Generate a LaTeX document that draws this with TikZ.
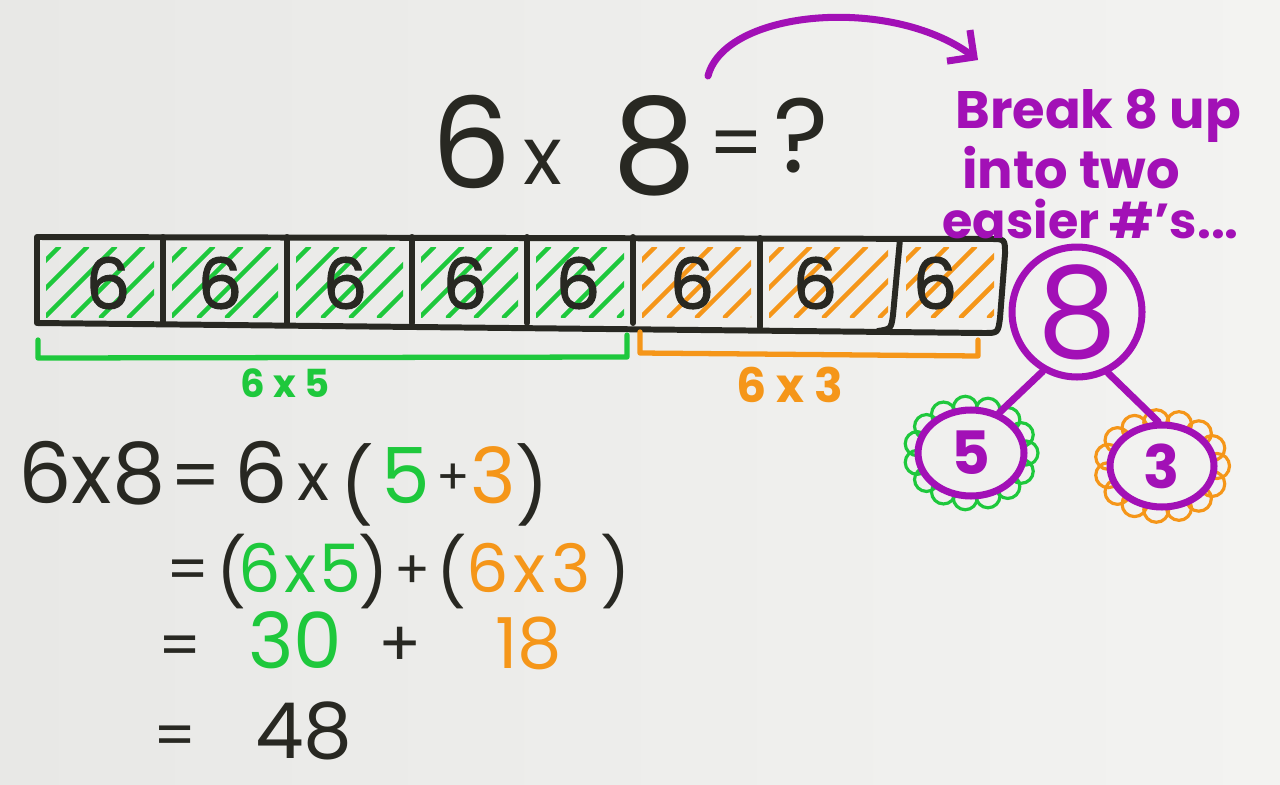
\documentclass[tikz,border=0pt]{standalone}
\usepackage{fontspec}
\setmainfont{Poppins}
\newfontfamily\thickfont[FakeBold=1.6]{Poppins}
\usetikzlibrary{arrows.meta,shapes.geometric}
\definecolor{bgl}{RGB}{232,232,230}
\definecolor{bgr}{RGB}{243,243,241}
\definecolor{maskg}{RGB}{240,240,238}
\definecolor{masko}{RGB}{242,242,240}
\definecolor{ink}{RGB}{40,40,34}
\definecolor{mgreen}{RGB}{30,200,60}
\definecolor{morange}{RGB}{245,150,25}
\definecolor{mpurple}{RGB}{162,16,182}
\newcommand{\myfs}[1]{\fontsize{#1}{#1}\selectfont}
\begin{document}
\begin{tikzpicture}[x=0.02cm,y=-0.02cm,
  outline/.style={draw=ink,line width=3.4pt,line join=round,line cap=round},
  hatch/.style={line width=2.6pt,line cap=round},
  celltxt/.style={text=ink,font=\myfs{40}\thickfont,inner sep=0pt},
  ptxt/.style={text=mpurple,font=\myfs{30}\bfseries,inner sep=0pt,anchor=base west},
  pline/.style={draw=mpurple,line width=4pt,line cap=round},
  eqtxt/.style={text=ink,inner sep=0pt,anchor=base west},
  ttl/.style={text=ink,inner sep=0pt},
  scallop/.style={line width=1.8pt},
]
\shade[left color=bgl,right color=bgr] (0,0) rectangle (1280,784);
\useasboundingbox (0,0) rectangle (1280,784);

% hatching
\foreach \xl/\xr/\c in {37/163/mgreen,163/287/mgreen,287/412/mgreen,412/527/mgreen,527/633/mgreen,633/760/morange,760/897/morange,897/1003/morange}{
  \begin{scope}
    \clip (\xl+9,247) rectangle (\xr-9,317);
    \foreach \a in {-76,-48,...,140}
      \draw[hatch,\c] (\xl+\a,317) -- (\xl+\a+70,247);
  \end{scope}
}

% bar outline
\draw[outline] (37,323) -- (37,237) -- (990,239) .. controls (1005,239) .. (1005,254)
  -- (1000,318) .. controls (998,333) .. (984,333) -- (37,323) -- cycle;
\foreach \xd in {163,287,412,527,633}
  \draw[outline] (\xd,237) -- (\xd,323);
\draw[outline] (760,238) -- (760,327);
\draw[outline] (900,239) -- (893,315) .. controls (891,329) .. (878,331);

% cell digits
\foreach \i/\xc in {1/108,2/220,3/345,4/465,5/578,6/692,7/815,8/935}
  \node[celltxt] (c\i) at (\xc,283) {6};

% brackets
\coordinate (gA) at (38,340); \coordinate (gB) at (38,358);
\coordinate (gC) at (627,357); \coordinate (gD) at (627,335);
\draw[mgreen,line width=3pt,line join=round,line cap=round] (gA) -- (gB) -- (gC) -- (gD);
\coordinate (oA) at (640,332); \coordinate (oB) at (640,353);
\coordinate (oC) at (978,356); \coordinate (oD) at (978,340);
\draw[morange,line width=3pt,line join=round,line cap=round] (oA) -- (oB) -- (oC) -- (oD);
\node[text=mgreen,font=\myfs{22}\bfseries,inner sep=0pt] (l65) at (285,383) {6 x 5};
\node[text=morange,font=\myfs{27}\bfseries,inner sep=0pt] (l63) at (790,385) {6 x 3};

% title
\node[ttl,font=\myfs{72}] (t6) at (472,142) {6};
\node[ttl,font=\myfs{46}] (tx) at (543,162) {x};
\node[ttl,font=\myfs{76}] (t8) at (655,146) {8};
\node[ttl,font=\myfs{44}] (teq) at (736,151) {=};
\node[ttl,font=\myfs{60}] (tq) at (801,136) {?};

% arrow
\coordinate (aS) at (708,76);
\coordinate (aE) at (978,60);
\draw[pline,-{Straight Barb[length=11pt,width=22pt]}] (aS) .. controls (725,10) and (890,-5) .. (aE);

% purple text
\node[ptxt] (p1) at (955,128) {Break 8 up};
\node[ptxt] (p2) at (962,188) {into two};
\node[ptxt,font=\myfs{28}\bfseries] (p3) at (942,238) {easier \#'s...};

% scallops
\begin{scope}[shift={(971,453)}]
  \foreach \a in {0,24,...,336}
    \draw[scallop,mgreen] (\a:1.1cm and 0.9cm) circle[radius=0.24cm];
  \fill[maskg] (0,0) ellipse[x radius=1.1cm,y radius=0.9cm];
\end{scope}
\begin{scope}[shift={(1162,466)}]
  \foreach \a in {0,24,...,336}
    \draw[scallop,morange] (\a:1.1cm and 0.88cm) circle[radius=0.25cm];
  \fill[masko] (0,0) ellipse[x radius=1.1cm,y radius=0.88cm];
\end{scope}

% tree
\node[circle,draw=mpurple,line width=4pt,minimum size=2.6cm,inner sep=0pt,text=mpurple,font=\myfs{72}] (n8) at (1077,312) {8};
\node[ellipse,draw=mpurple,line width=4pt,minimum width=2.12cm,minimum height=1.72cm,inner sep=0pt,text=mpurple,font=\myfs{34}\bfseries] (n5) at (971,453) {5};
\node[ellipse,draw=mpurple,line width=4pt,minimum width=2.08cm,minimum height=1.64cm,inner sep=0pt,text=mpurple,font=\myfs{34}\bfseries] (n3) at (1162,466) {3};
\draw[pline] (n8.240) -- (n5.55);
\draw[pline] (n8.297) -- (n3.95);

% equation line 1
\node[eqtxt,font=\myfs{48}] (e1a) at (18,503) {6x8};
\node[eqtxt,font=\myfs{40}] (e1b) at (170,500) {=};
\node[eqtxt,font=\myfs{48}] (e1c) at (234,503) {6};
\node[eqtxt,font=\myfs{38}] (e1d) at (297,500) {x};
\node[eqtxt,font=\myfs{42}] (e1e) at (340,512) {(};
\node[eqtxt,font=\myfs{44},text=mgreen] (e1f) at (381,503) {5};
\node[eqtxt,font=\myfs{28}] (e1g) at (436,494) {+};
\node[eqtxt,font=\myfs{44},text=morange] (e1h) at (470,503) {3};
\node[eqtxt,font=\myfs{42}] (e1i) at (515,512) {)};
% line 2
\node[eqtxt,font=\myfs{34}] (e2a) at (166,590) {=};
\node[eqtxt,font=\myfs{38}] (e2b) at (216,596) {(};
\node[eqtxt,font=\myfs{38},text=mgreen] (e2c) at (238,592) {6\hspace{2pt}x\hspace{2pt}5};
\node[eqtxt,font=\myfs{38}] (e2d) at (358,596) {)};
\node[eqtxt,font=\myfs{30}] (e2e) at (394,588) {+};
\node[eqtxt,font=\myfs{38}] (e2f) at (436,596) {(};
\node[eqtxt,font=\myfs{38},text=morange] (e2g) at (466,592) {6\hspace{3pt}x\hspace{3pt}3};
\node[eqtxt,font=\myfs{38}] (e2h) at (600,596) {)};
% line 3
\node[eqtxt,font=\myfs{34}] (e3q) at (158,666) {=};
\node[eqtxt,font=\myfs{44},text=mgreen] (e3a) at (248,668) {30};
\node[eqtxt,font=\myfs{36}] (e3p) at (378,666) {+};
\node[eqtxt,font=\myfs{40},text=morange] (e3b) at (495,668) {18};
% line 4
\node[eqtxt,font=\myfs{34}] (e4q) at (153,756) {=};
\node[eqtxt,font=\myfs{44}] (e4a) at (255,758) {48};
\end{tikzpicture}
\end{document}
